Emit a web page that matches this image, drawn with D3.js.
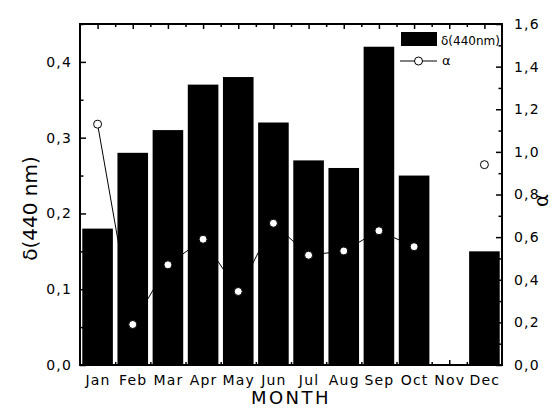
<!DOCTYPE html>
<html>
<head>
<meta charset="utf-8">
<script src="https://cdn.jsdelivr.net/npm/d3@7/dist/d3.min.js"></script>
<style>
  html, body { margin: 0; padding: 0; background: #fff; }
  svg { display: block; }
  text { font-family: "DejaVu Sans", Verdana, sans-serif; fill: #000; }
</style>
</head>
<body>
<svg id="chart" width="556" height="409"></svg>
<script>
// Monthly aerosol optical depth at 440 nm (bars) and Angstrom exponent (points)
const months = ["Jan", "Feb", "Mar", "Apr", "May", "Jun", "Jul", "Aug", "Sep", "Oct", "Nov", "Dec"];
const aod440 = [0.18, 0.28, 0.31, 0.37, 0.38, 0.32, 0.27, 0.26, 0.42, 0.25, null, 0.15];
const alpha = [1.13, 0.19, 0.47, 0.59, 0.345, 0.665, 0.515, 0.535, 0.63, 0.555, null, 0.94];
const leftTicks = [0, 0.1, 0.2, 0.3, 0.4];
const rightTicks = [0, 0.2, 0.4, 0.6, 0.8, 1.0, 1.2, 1.4, 1.6];

const svg = d3.select("#chart");
const L = 80, R = 502, T = 24, B = 365;

const x = d3.scaleBand().domain(months).range([L, R]).paddingInner(0.13).paddingOuter(0.065);
const xEdge = d3.scaleLinear().domain([0, months.length]).range([L, R]);
const yL = d3.scaleLinear().domain([0, 0.45]).range([B, T]);
const yR = d3.scaleLinear().domain([0, 1.6]).range([B, T]);
const comma = f => (v => d3.format(f)(v).replace(".", ","));

// bars
svg.append("g").selectAll("rect")
  .data(months.map((m, i) => ({ m, v: aod440[i] })).filter(d => d.v != null))
  .join("rect")
  .attr("x", d => x(d.m))
  .attr("width", x.bandwidth())
  .attr("y", d => yL(d.v))
  .attr("height", d => yL(0) - yL(d.v))
  .attr("fill", "#000");

// alpha line and markers
const pts = months.map((m, i) => ({ m, a: alpha[i] }));
const cx = d => x(d.m) + x.bandwidth() / 2;
svg.append("path")
  .datum(pts)
  .attr("fill", "none")
  .attr("stroke", "#000")
  .attr("stroke-width", 1)
  .attr("d", d3.line().defined(d => d.a != null).x(cx).y(d => yR(d.a)));
svg.append("g").selectAll("circle")
  .data(pts.filter(d => d.a != null))
  .join("circle")
  .attr("cx", cx)
  .attr("cy", d => yR(d.a))
  .attr("r", 4)
  .attr("fill", "#fff")
  .attr("stroke", "#000")
  .attr("stroke-width", 1);

// axes helpers
function style(g, labelSize) {
  g.selectAll(".domain").remove();
  g.selectAll(".tick line").attr("stroke", "#000").attr("stroke-width", 1.5);
  g.selectAll(".tick text").attr("font-size", labelSize).attr("letter-spacing", "1.2px")
    .attr("font-family", "DejaVu Sans, Verdana, sans-serif");
}

// bottom axis: labels at month centers, minor ticks at boundaries
const xCenter = d3.scalePoint().domain(months).range([L + x.step() / 2, R - x.step() / 2]);
svg.append("g").attr("transform", `translate(0,${B})`)
  .call(d3.axisBottom(xCenter).tickSizeInner(-5).tickSizeOuter(0).tickPadding(10))
  .call(g => style(g, 14));
svg.append("g").attr("transform", `translate(0,${B})`)
  .call(d3.axisBottom(xEdge).tickValues(d3.range(1, months.length)).tickSizeInner(-3).tickSizeOuter(0).tickFormat(""))
  .call(g => style(g, 14));
// top axis mirrors bottom ticks
svg.append("g").attr("transform", `translate(0,${T})`)
  .call(d3.axisTop(xCenter).tickSizeInner(-5).tickSizeOuter(0).tickFormat(""))
  .call(g => style(g, 14));
svg.append("g").attr("transform", `translate(0,${T})`)
  .call(d3.axisTop(xEdge).tickValues(d3.range(1, months.length)).tickSizeInner(-3).tickSizeOuter(0).tickFormat(""))
  .call(g => style(g, 14));

// left axis
svg.append("g").attr("transform", `translate(${L},0)`)
  .call(d3.axisLeft(yL).tickValues(leftTicks).tickSizeInner(-6).tickSizeOuter(0).tickPadding(8).tickFormat(comma(".1f")))
  .call(g => style(g, 14));
svg.append("g").attr("transform", `translate(${L},0)`)
  .call(d3.axisLeft(yL).tickValues(leftTicks.map(v => v + 0.05)).tickSizeInner(-3.5).tickSizeOuter(0).tickFormat(""))
  .call(g => style(g, 14));

// right axis
svg.append("g").attr("transform", `translate(${R},0)`)
  .call(d3.axisRight(yR).tickValues(rightTicks).tickSizeInner(-6).tickSizeOuter(0).tickPadding(12).tickFormat(comma(".1f")))
  .call(g => style(g, 14));
svg.append("g").attr("transform", `translate(${R},0)`)
  .call(d3.axisRight(yR).tickValues(rightTicks.slice(0, -1).map(v => v + 0.1)).tickSizeInner(-3.5).tickSizeOuter(0).tickFormat(""))
  .call(g => style(g, 14));

// frame
svg.append("rect")
  .attr("x", L).attr("y", T).attr("width", R - L).attr("height", B - T)
  .attr("fill", "none").attr("stroke", "#000").attr("stroke-width", 2);

// axis titles
svg.append("text")
  .attr("x", (L + R) / 2).attr("y", 404)
  .attr("text-anchor", "middle").attr("font-size", 18).attr("letter-spacing", "2.5px")
  .text("MONTH");
svg.append("text")
  .attr("transform", `translate(37,${(T + B) / 2 + 14}) rotate(-90)`)
  .attr("text-anchor", "middle").attr("font-size", 20)
  .text("δ(440 nm)");
svg.append("text")
  .attr("transform", `translate(548,${(T + B) / 2 + 6}) rotate(-90)`)
  .attr("text-anchor", "middle").attr("font-size", 20)
  .text("α");

// legend
const lg = svg.append("g");
lg.append("rect").attr("x", 401).attr("y", 32).attr("width", 36).attr("height", 14).attr("fill", "#000");
lg.append("text").attr("x", 441).attr("y", 45).attr("font-size", 12).text("δ(440nm)");
lg.append("line").attr("x1", 400).attr("x2", 437).attr("y1", 61).attr("y2", 61)
  .attr("stroke", "#000").attr("stroke-width", 1);
lg.append("circle").attr("cx", 418.5).attr("cy", 61).attr("r", 4)
  .attr("fill", "#fff").attr("stroke", "#000");
lg.append("text").attr("x", 442).attr("y", 65).attr("font-size", 13).text("α");
</script>
</body>
</html>
